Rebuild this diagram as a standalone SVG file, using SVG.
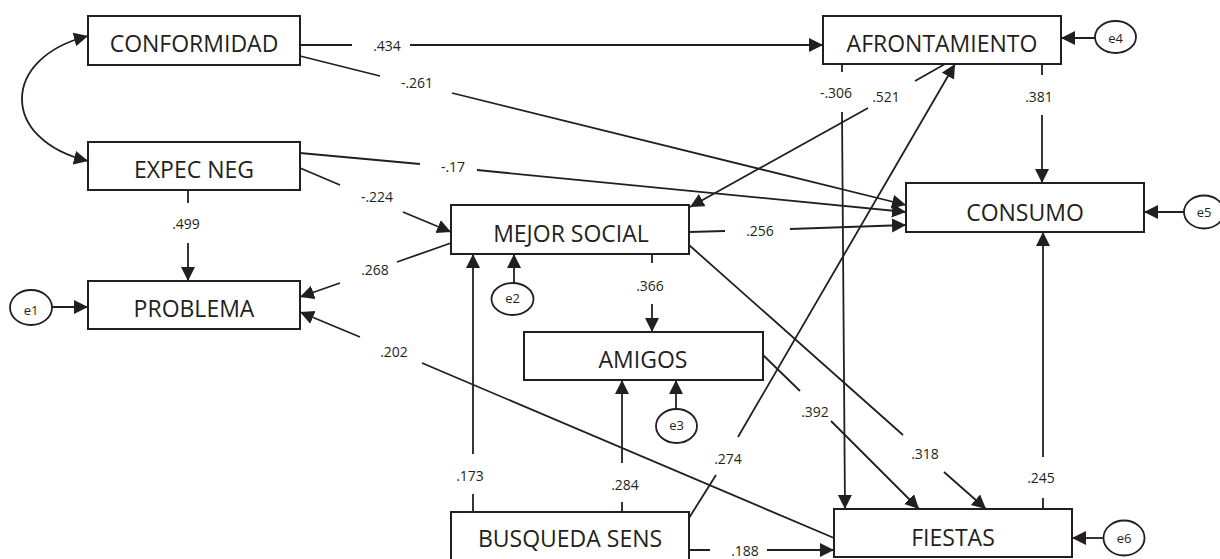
<svg xmlns="http://www.w3.org/2000/svg" width="1220" height="559" viewBox="0 0 1220 559">
<style>
.box{fill:#fff;stroke:#231f20;stroke-width:2}
.ell{fill:#fff;stroke:#231f20;stroke-width:1.8}
.ln{fill:none;stroke:#231f20;stroke-width:1.8}
.arr{marker-end:url(#ah)}
.nt{font-family:'Open Sans','Noto Sans',sans-serif;font-size:23px;fill:#231f20;text-anchor:middle}
.lb{font-family:'Open Sans','Noto Sans',sans-serif;font-size:14px;fill:#231f20;text-anchor:middle}
.et{font-family:'Open Sans','Noto Sans',sans-serif;font-size:13px;fill:#231f20;text-anchor:middle}
</style>
<defs>
<marker id="ah" markerUnits="userSpaceOnUse" markerWidth="15" markerHeight="15" refX="14" refY="7" orient="auto-start-reverse" viewBox="0 0 15 15">
<path d="M0,0 L14,7 L0,14 z" fill="#231f20"/>
</marker>
</defs>
<rect width="1220" height="559" fill="#fff"/>
<g id="connectors">
<path class="ln" d="M88,36 C0,58 0,140 88,161" marker-start="url(#ah)" marker-end="url(#ah)"/>
<path class="ln arr" d="M300,45 L352,45 M410,45 L823,45"/>
<path class="ln arr" d="M300,56 L380,76 M452,93 L906,205"/>
<path class="ln arr" d="M300,153 L420,164 M477,170 L906,212"/>
<path class="ln arr" d="M300,168 L340,185 M403,212 L451,232"/>
<path class="ln arr" d="M188,190 L188,203 M188,243 L188,281"/>
<path class="ln arr" d="M451,243 L397,262 M340,283 L300,297"/>
<path class="ln arr" d="M834,538 L422,363 M360,337 L300,312"/>
<path class="ln arr" d="M52,307 L88,307"/>
<path class="ln arr" d="M689,232 L725,231 M790,229 L906,225"/>
<path class="ln arr" d="M945,64 L915,81 M868,108 L690,207"/>
<path class="ln arr" d="M842,64 L842,72 M842,112 L845,509"/>
<path class="ln arr" d="M1042,64 L1042,75 M1042,115 L1042,183"/>
<path class="ln arr" d="M1095,38 L1061,38"/>
<path class="ln arr" d="M1184,212 L1144,212"/>
<path class="ln arr" d="M652,254 L652,263 M652,304 L652,332"/>
<path class="ln arr" d="M514,283 L514,254"/>
<path class="ln arr" d="M473,512 L473,494 M473,454 L473,254"/>
<path class="ln arr" d="M622,512 L622,502 M622,463 L622,380"/>
<path class="ln arr" d="M676,409 L676,380"/>
<path class="ln arr" d="M689,518 L716,475 M738,437 L955,64"/>
<path class="ln arr" d="M763,355 L800,391 M831,421 L919,509"/>
<path class="ln arr" d="M689,245 L903,435 M944,472 L986,509"/>
<path class="ln arr" d="M1043,509 L1043,498 M1043,457 L1043,232"/>
<path class="ln arr" d="M689,550 L710,550 M767,550 L834,550"/>
<path class="ln arr" d="M1103,538 L1072,538"/>
<text class="lb" x="387" y="51">.434</text>
<text class="lb" x="417" y="88">-.261</text>
<text class="lb" x="453" y="172">-.17</text>
<text class="lb" x="377" y="202">-.224</text>
<text class="lb" x="186" y="229">.499</text>
<text class="lb" x="375" y="275">.268</text>
<text class="lb" x="394" y="357">.202</text>
<text class="lb" x="760" y="236">.256</text>
<text class="lb" x="650" y="291">.366</text>
<text class="lb" x="836" y="98">-.306</text>
<text class="lb" x="886" y="102">.521</text>
<text class="lb" x="1039" y="102">.381</text>
<text class="lb" x="815" y="417">.392</text>
<text class="lb" x="925" y="459">.318</text>
<text class="lb" x="1041" y="483">.245</text>
<text class="lb" x="470" y="481">.173</text>
<text class="lb" x="625" y="490">.284</text>
<text class="lb" x="728" y="464">.274</text>
<text class="lb" x="745" y="556">.188</text>
</g>
<g id="conformidad"><rect class="box" x="88" y="16" width="212" height="49"/><text class="nt" x="194" y="52">CONFORMIDAD</text></g>
<g id="expec-neg"><rect class="box" x="88" y="142" width="212" height="48"/><text class="nt" x="194" y="178">EXPEC NEG</text></g>
<g id="problema"><rect class="box" x="88" y="281" width="212" height="48"/><text class="nt" x="194" y="317">PROBLEMA</text></g>
<g id="mejor-social"><rect class="box" x="451" y="205" width="238" height="49"/><text class="nt" x="571" y="242">MEJOR SOCIAL</text></g>
<g id="amigos"><rect class="box" x="524" y="332" width="239" height="48"/><text class="nt" x="643" y="368">AMIGOS</text></g>
<g id="busqueda-sens"><rect class="box" x="451" y="512" width="238" height="49"/><text class="nt" x="570" y="547">BUSQUEDA SENS</text></g>
<g id="fiestas"><rect class="box" x="834" y="509" width="238" height="48"/><text class="nt" x="953" y="546">FIESTAS</text></g>
<g id="afrontamiento"><rect class="box" x="823" y="16" width="238" height="48"/><text class="nt" x="942" y="52">AFRONTAMIENTO</text></g>
<g id="consumo"><rect class="box" x="906" y="183" width="238" height="49"/><text class="nt" x="1025" y="221">CONSUMO</text></g>
<g id="e1"><ellipse class="ell" cx="31" cy="307.5" rx="21" ry="17.5"/><text class="et" x="31" y="315">e1</text></g>
<g id="e2"><ellipse class="ell" cx="512.5" cy="299" rx="21" ry="16"/><text class="et" x="512.5" y="303">e2</text></g>
<g id="e3"><ellipse class="ell" cx="676.5" cy="426" rx="20.5" ry="17"/><text class="et" x="676.5" y="430">e3</text></g>
<g id="e4"><ellipse class="ell" cx="1115.5" cy="37" rx="20.5" ry="16"/><text class="et" x="1115.5" y="43">e4</text></g>
<g id="e5"><ellipse class="ell" cx="1204" cy="212" rx="20" ry="16.5"/><text class="et" x="1204" y="217">e5</text></g>
<g id="e6"><ellipse class="ell" cx="1124" cy="538" rx="20.5" ry="17.5"/><text class="et" x="1124" y="543">e6</text></g>
</svg>
